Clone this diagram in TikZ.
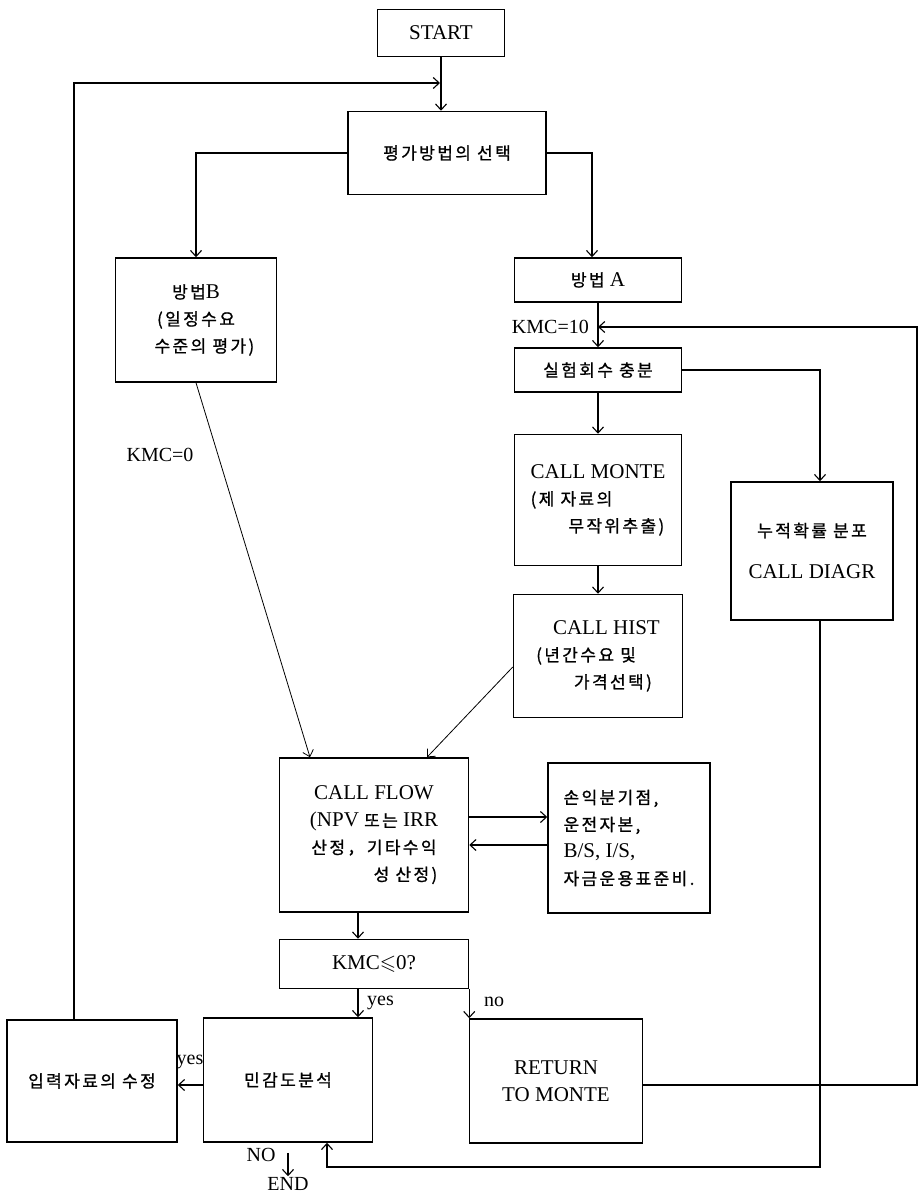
\documentclass[tikz,border=0pt]{standalone}
\usepackage{amssymb}
\usepackage{fontspec}
\setmainfont{Liberation Serif}
\newfontfamily\kr[LetterSpace=14, FakeBold=1]{Noto Sans CJK KR}
\newcommand{\kor}[1]{{\kr\fontsize{17}{27}\selectfont #1}}
\usetikzlibrary{positioning, arrows.meta}

\begin{document}
\begin{tikzpicture}[
    x=1pt, y=-1pt,
    box/.style={
        draw,
        line width=1.5pt,
        align=center,
        inner sep=2pt,
        font=\fontsize{21}{27}\selectfont
    },
    arrow/.style={
        -{Straight Barb[length=6pt, width=11pt]},
        line width=1.1pt
    },
    lbl/.style={
        font=\fontsize{20}{22}\selectfont,
        inner sep=1pt
    }
]
\useasboundingbox (0,0) rectangle (920,1196);

% Top
\node (start)  at (441,33)  [box, minimum width=127, minimum height=47] {START};
\node (select) at (447,153) [box, minimum width=198, minimum height=83] {\kor{평가방법의 선택}};

% Two methods
\node (methodb) at (196,320) [box, minimum width=161, minimum height=124]
    {\kor{방법}B\\\kor{(일정수요}\\\hspace*{0.8em}\kor{수준의 평가)}};
\node (methoda) at (598,280) [box, minimum width=167, minimum height=44] {\kor{방법}\ A};
\node (trials)  at (598,370) [box, minimum width=167, minimum height=44] {\kor{실험회수 충분}};

% Monte Carlo column
\node (monte) at (598,500) [box, minimum width=167, minimum height=131, align=left]
    {CALL MONTE\\\kor{(제 자료의}\\\hspace*{1.8em}\kor{무작위추출)}};
\node (hist)  at (598,656) [box, minimum width=169, minimum height=123, align=left]
    {\hspace*{0.8em}CALL HIST\\\kor{(년간수요 및}\\\hspace*{1.8em}\kor{가격선택)}};
\node (diagr) at (812,551) [box, minimum width=162, minimum height=138, font=\fontsize{21}{42}\selectfont]
    {\kor{누적확률 분포}\\CALL DIAGR};

% Cash flow
\node (flow)   at (374,835) [box, minimum width=189, minimum height=154]
    {CALL FLOW\\(NPV \kor{또는} IRR\\\kor{산정，기타수익}\\\hspace*{3em}\kor{성 산정)}};
\node (report) at (629,838) [box, minimum width=162, minimum height=150, align=left]
    {\kor{손익분기점,}\\\kor{운전자본,}\\B/S, I/S,\\\kor{자금운용표준비.}};
\node (kmctest) at (374,964) [box, minimum width=189, minimum height=49] {KMC$\leqslant$0?};

% Bottom Row
\node (revise)   at (92,1081)  [box, minimum width=170, minimum height=122] {\kor{입력자료의 수정}};
\node (sens)     at (288,1080) [box, minimum width=169, minimum height=124] {\kor{민감도분석}};
\node (retmonte) at (556,1081) [box, minimum width=173, minimum height=124] {RETURN\\TO MONTE};
\node (end) at (288,1184) [lbl] {END};

% Helper points
\coordinate (join)    at (440,83);
\coordinate (kmcjoin) at (598,327);
\coordinate (railr)   at (917,0);
\coordinate (bot)     at (0,1167);

% Labels
\node [lbl, anchor=east] at (590,327) {KMC=10};
\node [lbl] at (160,455) {KMC=0};
\node [lbl, anchor=west] at (366,1003) {yes};
\node [lbl, anchor=west] at (483,1002) {no};
\node [lbl] at (190,1062) {yes};
\node [lbl] at (261,1155) {NO};

% Arrows: top part
\draw [arrow] (start) -- (start |- select.north);
\draw [arrow] ([xshift=-18pt]revise.north) |- (join);
\draw [arrow] (select.west) -| (methodb.north);
\draw [arrow] (select.east) -| ([xshift=-6pt]methoda.north);
\draw [arrow] (methoda) -- (trials);
\draw [arrow] (trials) -- (monte);
\draw [arrow] (trials.east) -| ([xshift=8pt]diagr.north);
\draw [arrow] (monte) -- (hist);

% Arrows: into cash flow
\draw [arrow, line width=0.8pt] (methodb.south) -- ([xshift=-64pt]flow.north);
\draw [arrow, line width=0.8pt] ([yshift=-11pt]hist.west) -- ([xshift=53pt]flow.north);
\draw [arrow] ([yshift=18pt]flow.east) -- ([yshift=21pt]report.west);
\draw [arrow] ([yshift=-7pt]report.west) -- ([yshift=-10pt]flow.east);
\draw [arrow] ([xshift=-16pt]flow.south) -- ([xshift=-16pt]kmctest.north);

% Arrows: decision
\draw [arrow] ([xshift=-16pt]kmctest.south) -- ([xshift=-16pt]kmctest.south |- sens.north);
\draw [arrow] (kmctest.south east) -- (kmctest.south east |- retmonte.north);
\draw [arrow] ([yshift=-5pt]sens.west) -- ([yshift=-4pt]revise.east);
\draw [arrow] ([yshift=-10pt]sens.south) -- (end);

% Loops back
\draw [arrow] ([yshift=-4pt]retmonte.east) -| (railr |- kmcjoin) -- (kmcjoin);
\draw [arrow] ([xshift=8pt]diagr.south) |- ([xshift=39pt]sens.south |- bot) -- ([xshift=39pt]sens.south);

\end{tikzpicture}
\end{document}
